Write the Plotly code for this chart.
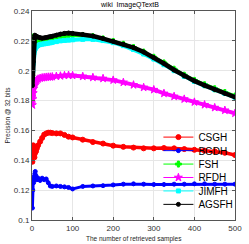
import plotly.graph_objects as go

# ---- data ----
samples = [1, 2, 3, 4, 5, 6, 7, 8, 10, 12, 15, 20, 25, 30, 35, 40, 45, 50, 60, 70, 80, 90, 100,
           125, 150, 175, 200, 225, 250, 275, 300, 325, 350, 375, 400, 425, 450, 475, 500]

csgh = [0.139, 0.143, 0.150, 0.1485, 0.145, 0.142, 0.1445, 0.147, 0.146, 0.148, 0.150, 0.1525, 0.155,
        0.1572, 0.158, 0.1585, 0.1585, 0.1582, 0.158, 0.158, 0.157, 0.1558, 0.1553,
        0.1538, 0.1522, 0.1512, 0.1498, 0.149, 0.1485, 0.148, 0.148, 0.1482, 0.148, 0.1475,
        0.147, 0.1465, 0.146, 0.145, 0.1435]

bgdh = [0.108, 0.120, 0.1265, 0.125, 0.129, 0.127, 0.131, 0.1325, 0.1295, 0.127, 0.128, 0.1265, 0.128,
        0.127, 0.1275, 0.125, 0.1228, 0.1225, 0.1228, 0.1225, 0.1222, 0.1218, 0.1208,
        0.1225, 0.1228, 0.123, 0.1235, 0.124, 0.1242, 0.124, 0.1238, 0.1238, 0.124, 0.124,
        0.1242, 0.1242, 0.124, 0.124, 0.124]

fsh = [0.221, 0.2225, 0.219, 0.2175, 0.216, 0.2165, 0.2175, 0.218, 0.2185, 0.2188, 0.219, 0.219, 0.2195,
       0.2198, 0.220, 0.2205, 0.221, 0.2215, 0.222, 0.2228, 0.2233, 0.2238, 0.2238,
       0.2235, 0.2228, 0.2213, 0.2196, 0.2177, 0.2155, 0.2125, 0.2090, 0.2052, 0.2010, 0.1970,
       0.1935, 0.1906, 0.1879, 0.1854, 0.1830]

rfdh = [0.177, 0.181, 0.185, 0.188, 0.190, 0.191, 0.1918, 0.1925, 0.193, 0.1938, 0.1945, 0.195, 0.1953,
        0.1955, 0.1957, 0.1958, 0.1958, 0.196, 0.1963, 0.1965, 0.1968, 0.197, 0.1968,
        0.1962, 0.1955, 0.1948, 0.1937, 0.1922, 0.1905, 0.1888, 0.1873, 0.1848, 0.1828, 0.181,
        0.179, 0.1772, 0.1753, 0.1735, 0.1715]

jimfh = [0.196, 0.200, 0.205, 0.209, 0.212, 0.2135, 0.2145, 0.215, 0.2158, 0.2165, 0.217, 0.2175, 0.2178,
         0.218, 0.2182, 0.2185, 0.2187, 0.219, 0.2195, 0.220, 0.2203, 0.2205, 0.2207,
         0.221, 0.221, 0.2202, 0.2188, 0.2168, 0.2142, 0.2112, 0.2078, 0.2040, 0.2000, 0.1962,
         0.1928, 0.1900, 0.1873, 0.1847, 0.1822]

agsfh = [0.190, 0.197, 0.206, 0.213, 0.219, 0.222, 0.2238, 0.2235, 0.223, 0.2228, 0.2225, 0.222, 0.2218,
         0.222, 0.2222, 0.2225, 0.2228, 0.223, 0.2238, 0.2245, 0.225, 0.2252, 0.225,
         0.2243, 0.2232, 0.2215, 0.2197, 0.2178, 0.2155, 0.2125, 0.2088, 0.2048, 0.2005, 0.1965,
         0.1932, 0.1902, 0.1874, 0.1848, 0.1823]

series_names = ["CSGH", "BGDH", "FSH", "RFDH", "JIMFH", "AGSFH"]
series_values = [csgh, bgdh, fsh, rfdh, jimfh, agsfh]

x_ticks = [0, 100, 200, 300, 400, 500]
y_ticks = [0.1, 0.12, 0.14, 0.16, 0.18, 0.2, 0.22, 0.24]
y_tick_labels = ["0.1", "0.12", "0.14", "0.16", "0.18", "0.2", "0.22", "0.24"]

# ---- styles ----
colors = ["#ff0000", "#0000ff", "#00ff00", "#ff00ff", "#00ffff", "#000000"]
symbols = ["circle", "circle", "cross", "star", "square", "circle"]
msizes = [5, 4, 5, 6, 4, 4]
band_widths = [3.5, 3, 3.5, 4, 4, 4.5]

W, H = 249, 244
L, R, T, B = 30, 7, 10, 24
pw, ph = W - L - R, H - T - B
legend_left_px = 162
legend_rows = [136.7, 150.3, 163.8, 177.3, 190.8, 204.3]

fig = go.Figure()
for i, (name, vals) in enumerate(zip(series_names, series_values)):
    lg = "legend" if i == 0 else f"legend{i+1}"
    # thick band (dense-marker look of the original)
    fig.add_trace(go.Scatter(
        x=samples, y=vals, name=name, mode="lines",
        line=dict(color=colors[i], width=band_widths[i]),
        showlegend=False, hoverinfo="skip",
    ))
    # thin line + markers, carries the legend entry
    fig.add_trace(go.Scatter(
        x=samples, y=vals, name=name, mode="lines+markers",
        line=dict(color=colors[i], width=1),
        marker=dict(color=colors[i], symbol=symbols[i], size=msizes[i],
                    line=dict(color=colors[i], width=1)),
        legend=lg,
    ))

legend_layouts = {}
for i in range(6):
    key = "legend" if i == 0 else f"legend{i+1}"
    legend_layouts[key] = dict(
        x=(legend_left_px - L) / pw, xanchor="left",
        y=(H - B - legend_rows[i]) / ph, yanchor="middle",
        bgcolor="rgba(0,0,0,0)", borderwidth=0,
        font=dict(family="Arial", size=10, color="#000000"),
    )

fig.update_layout(
    width=W, height=H,
    margin=dict(l=L, r=R, t=T, b=B),
    paper_bgcolor="white", plot_bgcolor="white",
    font=dict(family="Arial", color="#262626"),
    title=dict(text="wiki\u00a0 ImageQTextB", x=130 / W, xref="container", xanchor="center",
               y=1 - 4.5 / H, yref="container", yanchor="middle",
               font=dict(size=7, color="#000000")),
    showlegend=True,
    annotations=[dict(
        text="The number of retrieved samples", xref="paper", yref="paper",
        x=(136 - L) / pw, y=-(239 - (H - B)) / ph, xanchor="center", yanchor="middle",
        showarrow=False, font=dict(size=6.5, color="#262626"),
    )],
    **legend_layouts,
)

fig.update_xaxes(
    range=[0, 500], tickvals=x_ticks, ticks="inside", ticklen=3, tickcolor="#555",
    showline=True, linecolor="#555", linewidth=1, mirror="ticks",
    showgrid=True, gridcolor="#e6e6e6", gridwidth=1, zeroline=False,
    tickfont=dict(size=8, color="#333"),
)
fig.update_yaxes(
    range=[0.1, 0.24], tickvals=y_ticks, ticktext=y_tick_labels, ticks="inside", ticklen=3,
    tickcolor="#555", showline=True, linecolor="#555", linewidth=1, mirror="ticks",
    showgrid=True, gridcolor="#e6e6e6", gridwidth=1, zeroline=False,
    tickfont=dict(size=8, color="#333"),
    title=dict(text="Precision @ 32 bits", font=dict(size=6.5, color="#262626"), standoff=2),
)

fig.write_html("out.html", config={"displayModeBar": False},
               post_script="document.body.style.margin='0px';document.body.style.overflow='hidden';")
